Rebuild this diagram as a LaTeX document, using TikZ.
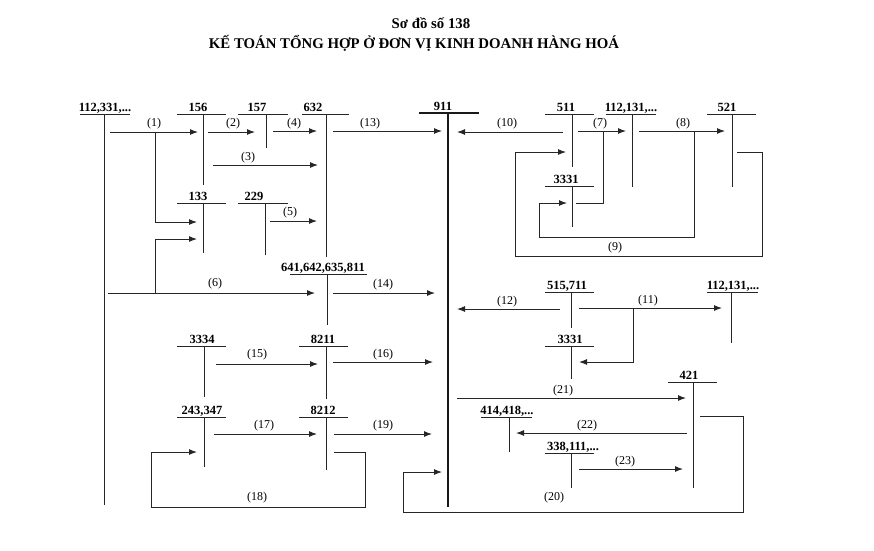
\documentclass[tikz,border=0pt]{standalone}
\usepackage{fontspec}
\setmainfont{Liberation Serif}
\usetikzlibrary{arrows.meta}
\tikzset{
 acct/.style={font=\fontsize{12.5}{14}\selectfont\bfseries, inner sep=0pt, anchor=base},
 lbl/.style={font=\fontsize{12}{13}\selectfont, inner sep=0pt},
 ttl/.style={font=\fontsize{14.8}{17}\selectfont\bfseries, inner sep=0pt},
 ln/.style={line width=1pt, draw=black!85},
 arr/.style={ln, -{Latex[length=8pt,width=6pt]}},
 heavy/.style={line width=2.4pt, draw=black!90},
}
\newcommand{\tacct}[8]{%
 \node[acct] (#1) at (#7,#4-3) {#8};
 \coordinate (#1-l) at (#2,#4);
 \coordinate (#1-r) at (#3,#4);
 \coordinate (#1-t) at (#5,#4);
 \coordinate (#1-b) at (#5,#6);
 \draw[ln] (#1-l) -- (#1-r);
 \draw[ln] (#1-t) -- (#1-b);
}
\newcommand{\harrow}[7]{%
 \coordinate (#1-s) at (#2,#4);
 \coordinate (#1-e) at (#3,#4);
 \draw[arr] (#1-s) -- (#1-e);
 \node[lbl] (#1-lbl) at (#6,#7) {#5};
}
\begin{document}
\begin{tikzpicture}[x=1pt,y=-1pt]
\useasboundingbox (0,0) rectangle (874,550);
% title
\node[ttl] (t1) at (431,23) {Sơ đồ số 138};
\node[ttl] (t2) at (414,43) {KẾ TOÁN TỔNG HỢP Ở ĐƠN VỊ KINH DOANH HÀNG HOÁ};
% accounts
\tacct{a112}{80}{130}{114}{104}{505}{105}{112,331,...}
\tacct{a156}{177}{226}{114}{203}{185}{198}{156}
\tacct{a157}{238}{288}{114}{266}{148}{257}{157}
\tacct{a632}{302}{349}{114}{326}{257}{313}{632}
\node[acct] (a911) at (443,110) {911};
\coordinate (a911-l) at (419,113);
\coordinate (a911-r) at (479,113);
\coordinate (a911-t) at (448,113);
\coordinate (a911-b) at (448,507);
\draw[heavy] (a911-l) -- (a911-r);
\draw[heavy] (a911-t) -- (a911-b);
\tacct{a511}{545}{594}{114}{572}{167}{566}{511}
\tacct{a112b}{606}{656}{114}{632}{187}{631}{112,131,...}
\tacct{a521}{707}{756}{114}{732}{187}{727}{521}
\tacct{a3331a}{545}{594}{186}{572}{227}{566}{3331}
\tacct{a133}{177}{226}{203}{203}{253}{198}{133}
\tacct{a229}{238}{288}{203}{265}{255}{254}{229}
\tacct{a641}{290}{367}{274}{327}{325}{323}{641,642,635,811}
\tacct{a515}{545}{594}{292}{571}{328}{567}{515,711}
\tacct{a112c}{707}{758}{292}{731}{343}{733}{112,131,...}
\tacct{a3331b}{545}{594}{346}{571}{379}{570}{3331}
\tacct{a3334}{177}{226}{346}{204}{397}{202}{3334}
\tacct{a8211}{299}{348}{346}{326}{399}{323}{8211}
\tacct{a421}{668}{717}{382}{693}{488}{689}{421}
\tacct{a243}{177}{226}{417}{204}{467}{202}{243,347}
\tacct{a8212}{299}{348}{417}{326}{470}{323}{8212}
\tacct{a414}{481}{532}{417}{509}{452}{507}{414,418,...}
\tacct{a338}{545}{594}{453}{571}{488}{573}{338,111,...}
% straight arrows
\harrow{e1}{110}{198}{132}{(1)}{154}{124}
\harrow{e2}{208}{255}{132}{(2)}{233}{124}
\harrow{e4}{273}{317}{131}{(4)}{294}{124}
\harrow{e13}{333}{442}{131}{(13)}{370}{124}
\harrow{e3}{213}{318}{165}{(3)}{248}{158}
\harrow{e5}{270}{317}{221}{(5)}{290}{213}
\harrow{e6}{108}{315}{293}{(6)}{215}{284}
\harrow{e14}{333}{435}{293}{(14)}{383}{285}
\harrow{e10}{563}{457}{132}{(10)}{507}{124}
\harrow{e7}{578}{626}{131}{(7)}{600}{124}
\harrow{e8}{639}{725}{131}{(8)}{683}{124}
\harrow{e12}{560}{457}{309}{(12)}{507}{302}
\harrow{e11}{579}{722}{308}{(11)}{648}{301}
\harrow{e15}{216}{318}{364}{(15)}{257}{355}
\harrow{e16}{333}{433}{362}{(16)}{383}{355}
\harrow{e21}{457}{686}{398}{(21)}{563}{391}
\harrow{e22}{687}{516}{433}{(22)}{587}{426}
\harrow{e23}{579}{683}{469}{(23)}{625}{462}
\harrow{e17}{214}{317}{434}{(17)}{264}{426}
\harrow{e19}{334}{432}{434}{(19)}{383}{426}
% branches
\coordinate (b1s) at (155,132);
\coordinate (b1e) at (197,222);
\draw[arr] (b1s) |- (b1e);
\coordinate (b6s) at (155,293);
\coordinate (b6e) at (197,239);
\draw[arr] (b6s) |- (b6e);
\coordinate (b7s) at (603,131);
\coordinate (b7e) at (576,203);
\draw[ln] (b7s) |- (b7e);
\coordinate (b8s) at (694,131);
\coordinate (b8m) at (539,237);
\coordinate (b8e) at (567,203);
\draw[arr] (b8s) |- (b8m) |- (b8e);
\coordinate (b11s) at (633,308);
\coordinate (b11e) at (579,362);
\draw[arr] (b11s) |- (b11e);
% loops
\coordinate (l9s) at (737,152);
\coordinate (l9a) at (762,256);
\coordinate (l9e) at (566,152);
\draw[arr] (l9s) -| (l9a) -- (515,256) |- (l9e);
\node[lbl] (l9lbl) at (615,248) {(9)};
\coordinate (l18s) at (334,452);
\coordinate (l18a) at (365,507);
\coordinate (l18e) at (197,452);
\draw[arr] (l18s) -| (l18a) -- (151,507) |- (l18e);
\node[lbl] (l18lbl) at (257,498) {(18)};
\coordinate (l20s) at (700,416);
\coordinate (l20a) at (743,512);
\coordinate (l20e) at (442,472);
\draw[arr] (l20s) -| (l20a) -- (403,512) |- (l20e);
\node[lbl] (l20lbl) at (554,498) {(20)};
\end{tikzpicture}
\end{document}
